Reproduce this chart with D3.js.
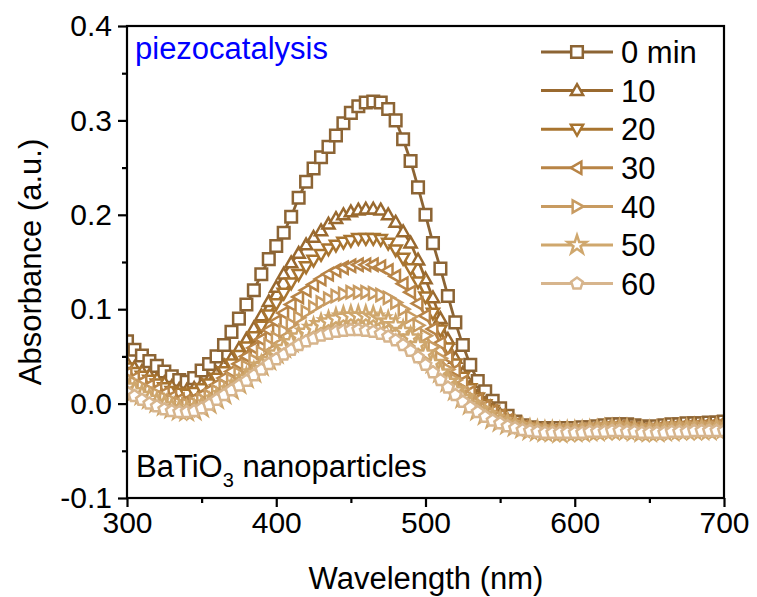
<!DOCTYPE html>
<html lang="en">
<head>
<meta charset="UTF-8">
<title>Absorbance</title>
<style>
  body { margin: 0; background: #fff; }
  svg text { font-family: "Liberation Sans", Arial, sans-serif; }
</style>
</head>
<body>
<script src="https://d3js.org/d3.v7.min.js"></script>
<script>
// wavelength grid, 300..700 nm every 5 nm
const wavelengths = d3.range(300, 701, 5)

const seriesNames = ['0 min', '10', '20', '30', '40', '50', '60']
const seriesColors = ['#8c6434', '#99692f', '#a8742f', '#b88446', '#c89b61', '#cfa76d', '#d7b58d']
const seriesSymbols = ['square', 'up', 'down', 'left', 'right', 'star', 'pentagon']

const abs0 = [0.066, 0.057, 0.051, 0.045, 0.040, 0.034, 0.029, 0.025, 0.023, 0.027,
  0.035, 0.042, 0.050, 0.062, 0.076, 0.090, 0.105, 0.120, 0.137, 0.153,
  0.167, 0.181, 0.198, 0.218, 0.235, 0.249, 0.261, 0.272, 0.284, 0.297,
  0.308, 0.315, 0.319, 0.320, 0.319, 0.312, 0.300, 0.280, 0.257, 0.229,
  0.200, 0.170, 0.143, 0.114, 0.086, 0.062, 0.041, 0.024, 0.013, 0.003,
  -0.005, -0.013, -0.019, -0.023, -0.025, -0.026, -0.026, -0.027, -0.026, -0.026,
  -0.026, -0.025, -0.025, -0.024, -0.023, -0.022, -0.022, -0.022, -0.023, -0.024,
  -0.025, -0.024, -0.023, -0.022, -0.022, -0.021, -0.021, -0.021, -0.020, -0.020,
  -0.019]
const abs10 = [0.043, 0.038, 0.034, 0.030, 0.026, 0.022, 0.018, 0.015, 0.014, 0.016,
  0.020, 0.025, 0.032, 0.040, 0.048, 0.058, 0.068, 0.080, 0.093, 0.108,
  0.123, 0.137, 0.149, 0.159, 0.168, 0.176, 0.183, 0.190, 0.196, 0.200,
  0.203, 0.205, 0.206, 0.206, 0.205, 0.200, 0.192, 0.182, 0.170, 0.152,
  0.132, 0.112, 0.090, 0.068, 0.048, 0.032, 0.018, 0.008, 0.000, -0.006,
  -0.012, -0.017, -0.021, -0.024, -0.026, -0.027, -0.027, -0.028, -0.028, -0.027,
  -0.027, -0.027, -0.026, -0.025, -0.024, -0.024, -0.023, -0.024, -0.025, -0.026,
  -0.026, -0.025, -0.024, -0.024, -0.023, -0.023, -0.022, -0.022, -0.022, -0.021,
  -0.021]
const abs20 = [0.038, 0.033, 0.029, 0.025, 0.021, 0.017, 0.013, 0.011, 0.010, 0.012,
  0.016, 0.021, 0.027, 0.034, 0.042, 0.051, 0.060, 0.071, 0.082, 0.094,
  0.106, 0.117, 0.128, 0.137, 0.145, 0.152, 0.158, 0.164, 0.168, 0.171,
  0.173, 0.175, 0.175, 0.175, 0.174, 0.170, 0.163, 0.154, 0.143, 0.129,
  0.113, 0.096, 0.078, 0.059, 0.042, 0.028, 0.016, 0.006, -0.001, -0.007,
  -0.012, -0.017, -0.021, -0.024, -0.026, -0.027, -0.028, -0.028, -0.029, -0.028,
  -0.028, -0.028, -0.027, -0.026, -0.026, -0.025, -0.025, -0.025, -0.026, -0.027,
  -0.027, -0.027, -0.026, -0.025, -0.025, -0.024, -0.024, -0.024, -0.023, -0.023,
  -0.023]
const abs30 = [0.032, 0.027, 0.023, 0.019, 0.015, 0.011, 0.007, 0.004, 0.003, 0.005,
  0.009, 0.014, 0.020, 0.027, 0.034, 0.042, 0.050, 0.059, 0.068, 0.078,
  0.087, 0.096, 0.105, 0.113, 0.120, 0.126, 0.132, 0.137, 0.141, 0.144,
  0.146, 0.147, 0.147, 0.147, 0.145, 0.141, 0.135, 0.127, 0.118, 0.106,
  0.093, 0.079, 0.064, 0.049, 0.035, 0.023, 0.012, 0.004, -0.003, -0.008,
  -0.013, -0.018, -0.022, -0.025, -0.027, -0.028, -0.029, -0.029, -0.029, -0.029,
  -0.029, -0.028, -0.028, -0.027, -0.026, -0.026, -0.025, -0.026, -0.027, -0.028,
  -0.028, -0.027, -0.027, -0.026, -0.026, -0.025, -0.025, -0.025, -0.025, -0.024,
  -0.024]
const abs40 = [0.027, 0.022, 0.018, 0.014, 0.010, 0.006, 0.003, 0.000, -0.001, 0.000,
  0.004, 0.008, 0.013, 0.019, 0.025, 0.032, 0.039, 0.046, 0.054, 0.062,
  0.069, 0.077, 0.084, 0.091, 0.097, 0.102, 0.107, 0.111, 0.114, 0.116,
  0.118, 0.118, 0.118, 0.117, 0.115, 0.112, 0.107, 0.100, 0.092, 0.083,
  0.072, 0.060, 0.048, 0.036, 0.025, 0.015, 0.007, 0.000, -0.006, -0.011,
  -0.015, -0.019, -0.023, -0.025, -0.027, -0.028, -0.029, -0.030, -0.030, -0.029,
  -0.029, -0.029, -0.028, -0.028, -0.027, -0.027, -0.026, -0.027, -0.028, -0.029,
  -0.029, -0.028, -0.028, -0.027, -0.027, -0.027, -0.026, -0.026, -0.026, -0.026,
  -0.026]
const abs50 = [0.018, 0.013, 0.009, 0.005, 0.001, -0.002, -0.005, -0.007, -0.008, -0.007,
  -0.004, 0.000, 0.005, 0.010, 0.015, 0.021, 0.027, 0.033, 0.040, 0.046,
  0.053, 0.059, 0.065, 0.071, 0.076, 0.080, 0.084, 0.087, 0.090, 0.092,
  0.093, 0.093, 0.093, 0.092, 0.090, 0.087, 0.083, 0.077, 0.070, 0.062,
  0.053, 0.043, 0.033, 0.023, 0.014, 0.006, -0.001, -0.007, -0.012, -0.016,
  -0.019, -0.022, -0.024, -0.026, -0.028, -0.029, -0.030, -0.030, -0.031, -0.030,
  -0.030, -0.030, -0.029, -0.029, -0.028, -0.028, -0.028, -0.028, -0.029, -0.030,
  -0.030, -0.030, -0.029, -0.029, -0.028, -0.028, -0.028, -0.028, -0.028, -0.027,
  -0.027]
const abs60 = [0.012, 0.008, 0.004, 0.000, -0.003, -0.006, -0.008, -0.009, -0.009, -0.008,
  -0.005, -0.001, 0.004, 0.009, 0.014, 0.019, 0.024, 0.030, 0.036, 0.042,
  0.047, 0.052, 0.057, 0.062, 0.066, 0.069, 0.072, 0.074, 0.076, 0.077,
  0.078, 0.078, 0.077, 0.076, 0.074, 0.071, 0.067, 0.062, 0.056, 0.049,
  0.041, 0.033, 0.025, 0.017, 0.009, 0.002, -0.004, -0.009, -0.014, -0.018,
  -0.021, -0.024, -0.026, -0.028, -0.029, -0.030, -0.031, -0.031, -0.031, -0.031,
  -0.031, -0.031, -0.030, -0.030, -0.030, -0.029, -0.029, -0.030, -0.030, -0.031,
  -0.031, -0.031, -0.031, -0.030, -0.030, -0.030, -0.029, -0.029, -0.029, -0.029,
  -0.029]
const allAbs = [abs0, abs10, abs20, abs30, abs40, abs50, abs60]

const xTicks = [300, 400, 500, 600, 700]
const yTicks = [-0.1, 0.0, 0.1, 0.2, 0.3, 0.4]

const W = 757, H = 597
const plotL = 127, plotR = 724, plotT = 26, plotB = 498

const svg = d3.select('body').append('svg')
  .attr('width', W).attr('height', H)

const x = d3.scaleLinear().domain([300, 700]).range([plotL, plotR])
const y = d3.scaleLinear().domain([-0.1, 0.4]).range([plotB, plotT])

svg.append('defs').append('clipPath').attr('id', 'plotclip')
  .append('rect').attr('x', plotL).attr('y', plotT)
  .attr('width', plotR - plotL).attr('height', plotB - plotT)

// marker shapes, r = half size
function markerPath (kind, r) {
  if (kind === 'square') return `M${-r},${-r}H${r}V${r}H${-r}Z`
  if (kind === 'up') return `M0,${-r * 1.1}L${r * 1.05},${r * 0.75}L${-r * 1.05},${r * 0.75}Z`
  if (kind === 'down') return `M0,${r * 1.1}L${r * 1.05},${-r * 0.75}L${-r * 1.05},${-r * 0.75}Z`
  if (kind === 'left') return `M${-r * 1.1},0L${r * 0.75},${-r * 1.05}L${r * 0.75},${r * 1.05}Z`
  if (kind === 'right') return `M${r * 1.1},0L${-r * 0.75},${-r * 1.05}L${-r * 0.75},${r * 1.05}Z`
  if (kind === 'star') return d3.symbol(d3.symbolStar, r * r * 3.2)()
  // pentagon
  let pts = d3.range(5).map(i => {
    let a = -Math.PI / 2 + i * 2 * Math.PI / 5
    return [r * 1.05 * Math.cos(a), r * 1.05 * Math.sin(a)]
  })
  return 'M' + pts.map(p => p.join(',')).join('L') + 'Z'
}

const line = d3.line().x(d => x(d[0])).y(d => y(d[1]))

const plot = svg.append('g').attr('clip-path', 'url(#plotclip)')

allAbs.forEach((vals, k) => {
  let pts = wavelengths.map((w, i) => [w, vals[i]])
  let g = plot.append('g')
  g.append('path')
    .attr('d', line(pts))
    .attr('fill', 'none')
    .attr('stroke', seriesColors[k])
    .attr('stroke-width', 2.8)
  g.selectAll('path.mk')
    .data(pts)
    .enter()
    .append('path')
    .attr('class', 'mk')
    .attr('transform', d => `translate(${x(d[0])},${y(d[1])})`)
    .attr('d', markerPath(seriesSymbols[k], 5.8))
    .attr('fill', '#fff')
    .attr('stroke', seriesColors[k])
    .attr('stroke-width', 2.5)
})

// frame
svg.append('rect')
  .attr('x', plotL).attr('y', plotT)
  .attr('width', plotR - plotL).attr('height', plotB - plotT)
  .attr('fill', 'none').attr('stroke', '#000').attr('stroke-width', 2.2)

// axes
const fmtY = d => d3.format('.1f')(d).replace('−', '-')
const xAxis = svg.append('g').attr('transform', `translate(0,${plotB})`)
  .call(d3.axisBottom(x).tickValues(xTicks).tickSize(9).tickPadding(5).tickFormat(d3.format('d')))
const xMinor = svg.append('g').attr('transform', `translate(0,${plotB})`)
  .call(d3.axisBottom(x).tickValues([350, 450, 550, 650]).tickSize(5).tickFormat(''))
const yAxis = svg.append('g').attr('transform', `translate(${plotL},0)`)
  .call(d3.axisLeft(y).tickValues(yTicks).tickSize(9).tickPadding(6).tickFormat(fmtY))
const yMinor = svg.append('g').attr('transform', `translate(${plotL},0)`)
  .call(d3.axisLeft(y).tickValues([-0.05, 0.05, 0.15, 0.25, 0.35]).tickSize(5).tickFormat(''))

;[xAxis, xMinor, yAxis, yMinor].forEach(a => {
  a.select('.domain').remove()
  a.selectAll('line').attr('stroke', '#000').attr('stroke-width', 2.2)
  a.selectAll('text').attr('font-size', 30).attr('fill', '#000')
    .style('font-family', '"Liberation Sans", Arial, sans-serif')
})

// axis titles
svg.append('text')
  .attr('x', 426).attr('y', 589)
  .attr('text-anchor', 'middle').attr('font-size', 31)
  .text('Wavelength (nm)')
svg.append('text')
  .attr('transform', `translate(41,262) rotate(-90)`)
  .attr('text-anchor', 'middle').attr('font-size', 31)
  .text('Absorbance (a.u.)')

// annotations
svg.append('text')
  .attr('x', 135).attr('y', 59)
  .attr('font-size', 31).attr('fill', '#0000ff')
  .text('piezocatalysis')
const lab = svg.append('text')
  .attr('x', 136).attr('y', 477)
  .attr('font-size', 31).attr('fill', '#000')
lab.append('tspan').text('BaTiO')
lab.append('tspan').attr('font-size', 20).attr('dy', 10).text('3')
lab.append('tspan').attr('dy', -10).text(' nanoparticles')

// legend
const legend = svg.append('g')
seriesNames.forEach((name, k) => {
  let ly = 52 + k * 38.6
  let row = legend.append('g').attr('transform', `translate(0,${ly})`)
  row.append('line').attr('x1', 541).attr('x2', 613)
    .attr('stroke', seriesColors[k]).attr('stroke-width', 3)
  row.append('path').attr('transform', 'translate(577,0)')
    .attr('d', markerPath(seriesSymbols[k], 5.8))
    .attr('fill', '#fff').attr('stroke', seriesColors[k]).attr('stroke-width', 2.5)
  row.append('text').attr('x', 621).attr('y', 0).attr('dy', '0.36em')
    .attr('font-size', 31).attr('fill', '#000')
    .text(name)
})
</script>
</body>
</html>
